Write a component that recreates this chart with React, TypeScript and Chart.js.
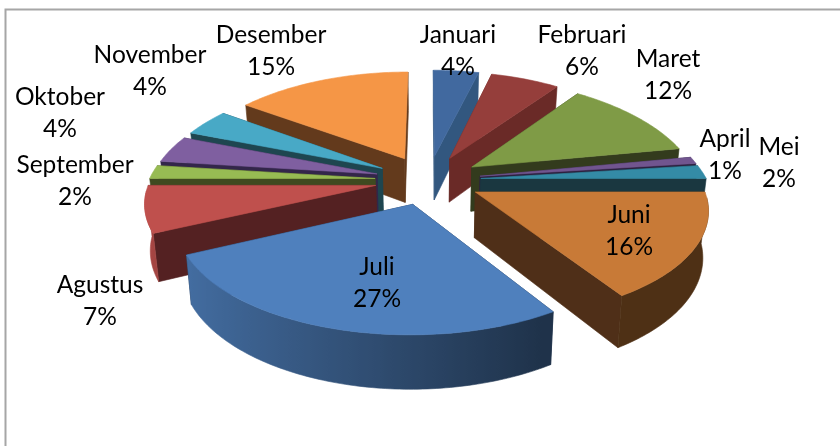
import React, { useEffect, useRef } from "react";
import { Chart, registerables } from "chart.js";

Chart.register(...registerables);

const months = ["Januari", "Februari", "Maret", "April", "Mei", "Juni", "Juli", "Agustus", "September", "Oktober", "November", "Desember"];
const shares = [4, 6, 12, 1, 2, 16, 27, 7, 2, 4, 4, 15];

const topColors = ["#41699f", "#953e3b", "#7f9b46", "#71558f", "#348ba6", "#c87a37", "#4f80bd", "#bf504d", "#97bb53", "#7f5fa0", "#48a9c6", "#f59646"];
const wallColors = ["#32577f", "#6a2a27", "#333b1d", "#2d2140", "#1a3740", "#4f2f18", "#1d3149", "#542122", "#3f4a20", "#33264a", "#1e4650", "#633a1c"];

// label layout (centre x, first line y)
const labelLayout: [number, number][] = [
  [458, 35], [582, 35], [668, 59], [725, 139], [779, 147], [629, 215],
  [377, 267], [100, 285], [75, 165], [60, 97], [150, 55], [271, 35],
];
const lineGap = 32;

// projection of the tilted pie
const CX = 428, CY = 180, AX = 226, AY = 104.5, PERSP = 0.141, PERSP_BACK_RIGHT = 0.2, PERSP_BACK_LEFT = 0.17, DEPTH = 45, CONVERGE = 0.98, EXPLODE = 0.235;

const hex = (c: string) => [1, 3, 5].map((i) => parseInt(c.slice(i, i + 2), 16));
const shaded = (c: string, f: number) => {
  const [r, g, b] = hex(c);
  return `rgb(${Math.round(r * f)},${Math.round(g * f)},${Math.round(b * f)})`;
};

const project = (u: number, v: number, low: boolean) => {
  const s = 1 / (1 - PERSP * v);
  const back = u < 0 ? PERSP_BACK_LEFT : PERSP_BACK_RIGHT;
  const sx = 1 / (1 - (v < 0 ? back : PERSP) * v);
  let x = AX * u * sx;
  let y = CY + AY * v * s;
  if (low) {
    y += DEPTH * s;
    x *= CONVERGE;
  }
  return [CX + x, y];
};

const rimShade = (sinA: number) => {
  if (sinA < -0.9) return 0.85 + (0.15 * (-0.9 - sinA)) / 0.1;
  const t = Math.min(1, (sinA + 0.9) / 1.4);
  return 0.85 + (0.39 - 0.85) * t;
};

const pie3d = {
  id: "pie3d",
  beforeDatasetDraw(chart: any) {
    const ctx: CanvasRenderingContext2D = chart.ctx;
    const arcs = chart.getDatasetMeta(0).data;
    const pieces = arcs.map((arc: any, i: number) => {
      const a0 = arc.startAngle + Math.PI / 2;
      const a1 = arc.endAngle + Math.PI / 2;
      const mid = (a0 + a1) / 2;
      return { i, a0, a1, mid, ou: EXPLODE * Math.sin(mid), ov: -EXPLODE * Math.cos(mid) };
    });
    pieces.sort((p: any, q: any) => -Math.cos(p.mid) - -Math.cos(q.mid));

    const poly = (pts: number[][], color: any) => {
      ctx.beginPath();
      pts.forEach(([x, y], k) => (k ? ctx.lineTo(x, y) : ctx.moveTo(x, y)));
      ctx.closePath();
      ctx.fillStyle = color;
      ctx.strokeStyle = color;
      ctx.lineWidth = 0.6;
      ctx.fill();
      ctx.stroke();
    };

    ctx.save();
    ctx.lineJoin = "round";
    for (const p of pieces) {
      const rimAt = (a: number, low: boolean) => project(p.ou + Math.sin(a), p.ov - Math.cos(a), low);
      const wall = (a: number) =>
        poly([project(p.ou, p.ov, false), rimAt(a, false), rimAt(a, true), project(p.ou, p.ov, true)], wallColors[p.i]);
      if (p.mid < Math.PI) {
        wall(p.a0);
        wall(p.a1);
      } else {
        wall(p.a1);
        wall(p.a0);
      }
      const steps = Math.max(2, Math.ceil(((p.a1 - p.a0) * 180) / Math.PI));
      const angle = (k: number) => p.a0 + ((p.a1 - p.a0) * k) / steps;
      const front: number[] = [];
      for (let k = 0; k <= steps; k++) if (-Math.cos(angle(k)) > 0.05) front.push(angle(k));
      if (front.length > 1) {
        const upper = front.map((a) => rimAt(a, false));
        const lower = front.map((a) => rimAt(a, true)).reverse();
        const xs = upper.map((q) => q[0]);
        const xa = Math.min(...xs), xb = Math.max(...xs);
        const grad = ctx.createLinearGradient(xa, 0, xb, 0);
        const ordered = [...front].sort((a, b) => rimAt(a, false)[0] - rimAt(b, false)[0]);
        ordered.forEach((a) => {
          const pos = (rimAt(a, false)[0] - xa) / Math.max(1, xb - xa);
          grad.addColorStop(pos, shaded(topColors[p.i], rimShade(Math.sin(a))));
        });
        poly([...upper, ...lower], grad);
      }
      const top = [project(p.ou, p.ov, false)];
      for (let k = 0; k <= steps; k++) top.push(rimAt(angle(k), false));
      poly(top, topColors[p.i]);
    }
    ctx.restore();
    return false;
  },
  afterDatasetsDraw(chart: any) {
    const ctx: CanvasRenderingContext2D = chart.ctx;
    ctx.save();
    ctx.strokeStyle = "#a6a6a6";
    ctx.lineWidth = 2;
    ctx.beginPath();
    ctx.moveTo(5.5, 446);
    ctx.lineTo(5.5, 9.5);
    ctx.lineTo(840, 9.5);
    ctx.stroke();
    const total = shares.reduce((a, b) => a + b, 0);
    ctx.fillStyle = "#000";
    ctx.font = "24.5px Lato";
    ctx.textAlign = "center";
    ctx.textBaseline = "middle";
    months.forEach((m, i) => {
      const [x, y] = labelLayout[i];
      ctx.fillText(m, x, y);
      ctx.fillText(`${Math.round((shares[i] / total) * 100)}%`, x, y + lineGap);
    });
    ctx.restore();
  },
};

export default function App() {
  const ref = useRef<HTMLCanvasElement>(null);
  useEffect(() => {
    const chart = new Chart(ref.current!, {
      type: "pie",
      data: {
        labels: months,
        datasets: [{ data: shares, backgroundColor: topColors }],
      },
      options: {
        responsive: false,
        animation: false,
        plugins: { legend: { display: false }, tooltip: { enabled: false } },
      },
      plugins: [pie3d],
    } as any);
    return () => chart.destroy();
  }, []);
  return (
    <div style={{ position: "absolute", left: 0, top: 0, width: 840, height: 446, background: "#fff" }}>
      <canvas ref={ref} width={840} height={446} style={{ display: "block" }} />
    </div>
  );
}
